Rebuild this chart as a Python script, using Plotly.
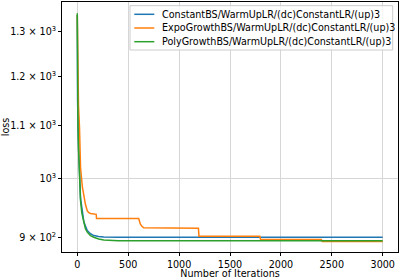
import plotly.graph_objects as go

# Data
blue_x = [0, 3, 13, 32, 65, 98, 130, 162, 210, 260, 400, 3000]
blue_y = [1340, 1150, 1055, 965, 925, 911, 906, 903, 901.5, 900.5, 900.2, 900.2]

orange_x = [0, 5, 12, 22, 32, 50, 65, 80, 98, 110, 130, 162, 186, 189, 603, 612, 619, 635, 652, 1190, 1195,
            1793, 1800, 2397, 2405, 3000]
orange_y = [1340, 1200, 1140, 1095, 1020, 985, 967, 955, 944, 941, 939.5, 938.6, 938, 931, 931, 926, 922, 918, 915.5,
            915, 901.8, 901.8, 896.5, 896.5, 893.6, 893.6]

green_x = [0, 3, 7, 13, 20, 32, 45, 65, 80, 98, 130, 162, 210, 260, 330, 400, 3000]
green_y = [1344, 1150, 1095, 1050, 1000, 961, 940, 922, 914, 908.5, 903, 900.3, 897.5, 896, 895.2, 894.8, 894.8]

series_names = [
    "ConstantBS/WarmUpLR/(dc)ConstantLR/(up)3",
    "ExpoGrowthBS/WarmUpLR/(dc)ConstantLR/(up)3",
    "PolyGrowthBS/WarmUpLR/(dc)ConstantLR/(up)3",
]
colors = ["#1f77b4", "#ff7f0e", "#2ca02c"]

x_ticks = [0, 500, 1000, 1500, 2000, 2500, 3000]
y_tickvals = [900, 1000, 1100, 1200, 1300]
y_ticktext = ["9 × 10<sup>2</sup>", "10<sup>3</sup>", "1.1 × 10<sup>3</sup>",
              "1.2 × 10<sup>3</sup>", "1.3 × 10<sup>3</sup>"]

W, H = 399, 279
ML, MR, MT, MB = 62, 1, 2, 27
font = "DejaVu Sans"
FS = 9.6

fig = go.Figure()
for xs, ys, name, c in [(blue_x, blue_y, series_names[0], colors[0]),
                        (orange_x, orange_y, series_names[1], colors[1]),
                        (green_x, green_y, series_names[2], colors[2])]:
    fig.add_trace(go.Scatter(x=xs, y=ys, mode="lines", name=name,
                             line=dict(color=c, width=1.5), showlegend=False))


# Legend box drawn in paper coordinates (matplotlib-like compact legend)
def px_x(p):
    return (p - ML) / (W - ML - MR)


def px_y(p):
    return (H - MB - p) / (H - MT - MB)


shapes = [dict(type="rect", xref="paper", yref="paper",
               x0=px_x(130), x1=px_x(392.7), y0=px_y(50), y1=px_y(5.7),
               fillcolor="rgba(255,255,255,0.8)", line=dict(color="#cccccc", width=1), layer="above")]
annotations = []
rows = [14.3, 28.0, 41.7]
for name, c, r in zip(series_names, colors, rows):
    shapes.append(dict(type="line", xref="paper", yref="paper",
                       x0=px_x(134.3), x1=px_x(154.3), y0=px_y(r), y1=px_y(r),
                       line=dict(color=c, width=1.5), layer="above"))
    annotations.append(dict(xref="paper", yref="paper", x=px_x(160), y=px_y(r),
                            xanchor="left", yanchor="middle", text=name, showarrow=False,
                            font=dict(family=font, size=FS, color="black")))

fig.update_layout(
    width=W, height=H,
    margin=dict(l=ML, r=MR, t=MT, b=MB, autoexpand=False),
    paper_bgcolor="white", plot_bgcolor="white",
    font=dict(family=font, size=FS, color="black"),
    showlegend=False,
    shapes=shapes, annotations=annotations,
    xaxis=dict(range=[-150, 3150], tickvals=x_ticks, ticks="outside", ticklen=3,
               tickcolor="black", showline=True, mirror=True, linecolor="black", linewidth=1,
               showgrid=True, gridcolor="#d6d6d6", gridwidth=1, zeroline=False, automargin=True,
               title=dict(text="Number of Iterations", standoff=4, font=dict(size=FS))),
    yaxis=dict(type="log", range=[2.9429, 3.1372], tickvals=y_tickvals, ticktext=y_ticktext,
               ticks="outside", ticklen=3, tickcolor="black", showline=True, mirror=True,
               linecolor="black", linewidth=1, showgrid=False, zeroline=False, automargin=False,
               minor=dict(tickvals=[1000], showgrid=True, gridcolor="#d6d6d6", gridwidth=1, ticks=""),
               title=dict(text="loss", standoff=4, font=dict(size=FS))),
)

fig.write_html("out.html", config={"displayModeBar": False},
               post_script="document.body.style.margin='0';document.body.style.padding='0';")
